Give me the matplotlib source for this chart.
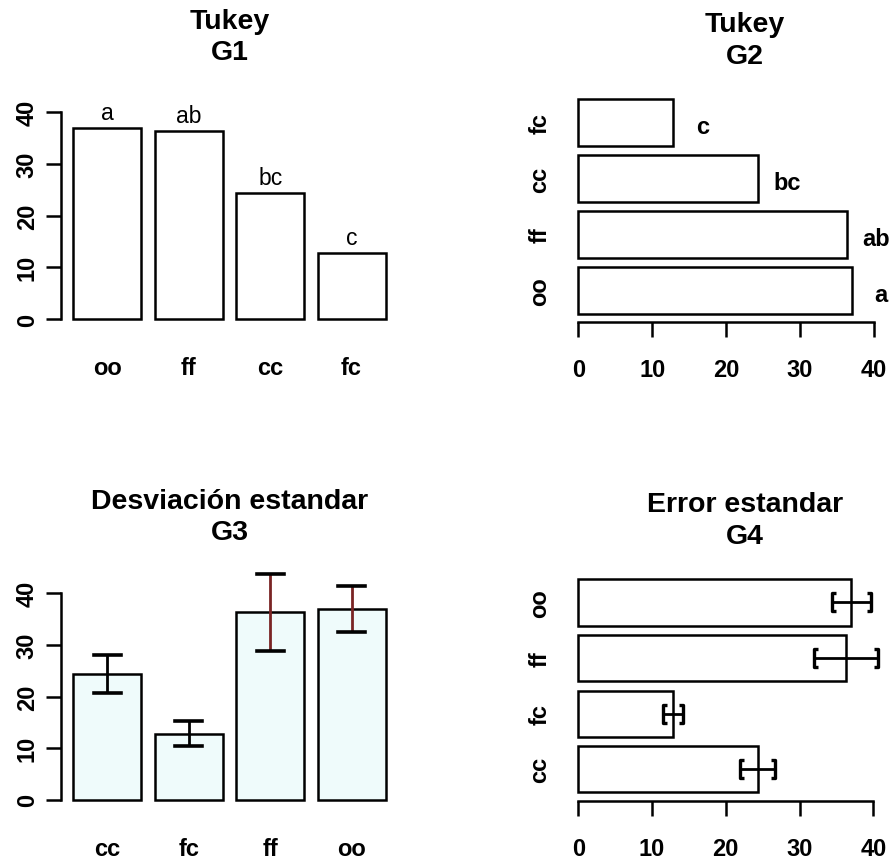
import matplotlib
matplotlib.use('Agg')
import matplotlib.pyplot as plt
from matplotlib.path import Path

plt.rcParams['font.family'] = ['Liberation Sans', 'DejaVu Sans']

# datos
groups = ['cc', 'fc', 'ff', 'oo']
means = [24.3, 12.8, 36.3, 37.0]
sd = [3.7, 2.4, 7.4, 4.5]
se = [2.35, 1.35, 4.4, 2.65]

tukey_order = ['oo', 'ff', 'cc', 'fc']
tukey_means = [37.0, 36.3, 24.3, 12.8]
tukey_letters = ['a', 'ab', 'bc', 'c']

ticks = [0, 10, 20, 30, 40]

W, H = 890, 862
fig = plt.figure(figsize=(W / 100, H / 100), dpi=100)


def add_ax(left, top, right, bottom):
    return fig.add_axes([left / W, 1 - bottom / H, (right - left) / W, (bottom - top) / H])


def title(x, y1, y2, t1, t2):
    fig.text(x / W, 1 - y1 / H, t1, ha='center', va='center', fontsize=20.5, fontweight='bold')
    fig.text(x / W, 1 - y2 / H, t2, ha='center', va='center', fontsize=20.5, fontweight='bold')


pos = [0.7 + 1.2 * i for i in range(4)]
lw = 1.8
tick_kw = dict(labelsize=17, width=lw, length=11)


def vertical(ax):
    ax.set_xlim(0.016, 4.984)
    ax.set_ylim(-1.6, 41.6)
    for s in ['top', 'right', 'bottom']:
        ax.spines[s].set_visible(False)
    ax.spines['left'].set_bounds(0, 40)
    ax.spines['left'].set_linewidth(lw)
    ax.set_yticks(ticks)
    ax.tick_params(axis='y', labelrotation=90, pad=5, **tick_kw)
    for lab in ax.get_yticklabels():
        lab.set_fontweight('bold')
        lab.set_va('center')
    ax.tick_params(axis='x', length=0, pad=21, labelsize=17)
    ax.set_xticks(pos)


def horizontal(ax):
    ax.set_ylim(0.016, 4.984)
    ax.set_xlim(-1.6, 41.6)
    for s in ['top', 'right', 'left']:
        ax.spines[s].set_visible(False)
    ax.spines['bottom'].set_bounds(0, 40)
    ax.spines['bottom'].set_linewidth(lw)
    ax.set_xticks(ticks)
    ax.tick_params(axis='x', pad=15, **tick_kw)
    for lab in ax.get_xticklabels():
        lab.set_fontweight('bold')
    ax.set_yticks(pos)
    ax.tick_params(axis='y', length=0, pad=11, labelsize=17, labelrotation=90)
    for lab in ax.get_yticklabels():
        lab.set_va('center')


# G1
ax1 = add_ax(61, 105, 398, 328.3)
ax1.bar(pos, tukey_means, width=1, color='white', edgecolor='black', linewidth=lw)
vertical(ax1)
ax1.set_xticklabels(tukey_order, fontweight='bold')
for x, m, l in zip(pos, tukey_means, tukey_letters):
    ax1.text(x, m + 3, l, ha='center', va='center', fontsize=16.5)
title(230, 22, 53, 'Tukey', 'G1')

# G2
ax2 = add_ax(566.5, 91.7, 885.8, 323.2)
ax2.barh(pos, tukey_means, height=1, color='white', edgecolor='black', linewidth=lw)
horizontal(ax2)
ax2.set_yticklabels(tukey_order, fontweight='bold')
for y, m, l in zip(pos, tukey_means, tukey_letters):
    ax2.text(m + 4, y - 0.08, l, ha='center', va='center', fontsize=17,
             fontweight='bold', clip_on=False)
title(745, 25, 57, 'Tukey', 'G2')

# G3
ax3 = add_ax(61, 586, 398, 809)
ax3.bar(pos, means, width=1, color='#effbfb', edgecolor='black', linewidth=lw)
vertical(ax3)
ax3.set_xticklabels(groups, fontweight='bold')
stem_cols = ['black', 'black', '#7a2424', '#7a2424']
for x, m, s, c in zip(pos, means, sd, stem_cols):
    ax3.plot([x, x], [m - s, m + s], color=c, lw=2, solid_capstyle='butt', clip_on=False)
    ax3.plot([x - 0.2, x + 0.2], [m + s, m + s], color='black', lw=2.6, clip_on=False)
    ax3.plot([x - 0.2, x + 0.2], [m - s, m - s], color='black', lw=2.6, clip_on=False)
title(230, 502, 533, 'Desviación estandar', 'G3')

# G4
ax4 = add_ax(566.5, 571.8, 885.1, 802)
ax4.barh(pos, means, height=1, color='white', edgecolor='black', linewidth=lw)
horizontal(ax4)
ax4.set_yticklabels(groups, fontweight='bold')
left_br = Path([(0.4, -1), (0, -1), (0, 1), (0.4, 1)])
right_br = Path([(-0.4, -1), (0, -1), (0, 1), (-0.4, 1)])
for y, m, s in zip(pos, means, se):
    ax4.plot([m - s, m + s], [y, y], color='black', lw=2, clip_on=False)
    ax4.plot([m - s], [y], marker=left_br, markersize=13, color='black',
             markerfacecolor='none', markeredgewidth=2.4, linestyle='none')
    ax4.plot([m + s], [y], marker=right_br, markersize=13, color='black',
             markerfacecolor='none', markeredgewidth=2.4, linestyle='none', clip_on=False)
title(745, 505, 537, 'Error estandar', 'G4')

plt.savefig('out.png', dpi=100)
